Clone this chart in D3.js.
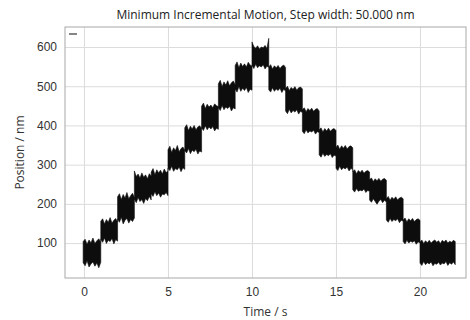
<!DOCTYPE html>
<html>
<head>
<meta charset="utf-8">
<script src="https://cdn.jsdelivr.net/npm/d3@7"></script>
<style>
  body { margin: 0; background: #fff; }
  svg { display: block; font-family: "Open Sans", "Noto Sans", sans-serif; }
  .grid line { stroke: #dcdcdc; stroke-width: 1; }
  .grid path { display: none; }
  .axis path, .axis line { display: none; }
  .axis text { font-size: 12px; fill: #333; }
</style>
</head>
<body>
<div id="chart"></div>
<script>
// step start / end times (s)
const stepStart = [-0.05, 1, 2, 3, 4, 5, 6, 7, 8, 9, 10, 11, 12, 13, 14, 15, 16, 17, 18, 19, 20];
const stepEnd = [1, 2, 3, 4, 5, 6, 7, 8, 9, 10, 11, 12, 13, 14, 15, 16, 17, 18, 19, 20, 22.1];

// upper / lower edge of the noisy trace in each step (nm)
const upperEnv = [
  [104, 110, 97, 108, 101, 113, 99, 106, 111, 102],
  [156, 162, 149, 160, 153, 165, 151, 158, 163, 154],
  [218, 226, 211, 224, 215, 229, 213, 221, 227, 216],
  [284, 270, 276, 266, 279, 268, 274, 264, 277, 271],
  [281, 290, 274, 287, 279, 286, 276, 289, 280, 284],
  [338, 347, 331, 343, 336, 349, 333, 341, 345, 337],
  [394, 402, 387, 398, 391, 400, 389, 396, 399, 392],
  [449, 457, 443, 454, 447, 452, 445, 455, 450, 448],
  [506, 515, 499, 511, 503, 514, 501, 509, 513, 504],
  [553, 562, 547, 559, 550, 557, 549, 561, 554, 551],
  [613, 601, 597, 603, 595, 600, 598, 604, 596, 622],
  [549, 555, 544, 552, 547, 553, 545, 551, 554, 548],
  [494, 500, 489, 497, 492, 499, 490, 496, 498, 493],
  [440, 445, 435, 443, 438, 444, 436, 441, 443, 437],
  [389, 394, 383, 392, 386, 393, 385, 390, 392, 387],
  [344, 350, 339, 348, 342, 349, 340, 346, 348, 343],
  [282, 287, 277, 285, 280, 286, 278, 283, 285, 281],
  [262, 266, 257, 264, 259, 265, 258, 263, 265, 260],
  [214, 219, 209, 217, 212, 218, 210, 215, 217, 213],
  [159, 164, 154, 162, 157, 163, 155, 160, 162, 158],
  [103, 108, 99, 106, 101, 107, 100, 105, 108, 102, 106, 99, 107, 103, 108, 100, 105, 102, 107, 104]
];
const lowerEnv = [
  [50, 42, 55, 39, 47, 52, 41, 49, 37, 51],
  [110, 102, 113, 99, 107, 104, 112, 98, 109, 105],
  [161, 153, 166, 149, 158, 163, 151, 160, 155, 164],
  [212, 203, 216, 206, 211, 201, 214, 208, 219, 210],
  [226, 219, 231, 221, 228, 217, 225, 223, 229, 221],
  [291, 285, 296, 283, 290, 287, 294, 282, 292, 288],
  [336, 330, 341, 328, 337, 333, 339, 327, 335, 332],
  [394, 387, 399, 389, 396, 391, 397, 386, 393, 390],
  [446, 438, 451, 440, 447, 443, 449, 437, 445, 442],
  [493, 485, 499, 487, 495, 489, 497, 484, 492, 490],
  [553, 545, 556, 547, 552, 549, 555, 544, 551, 548],
  [491, 485, 496, 487, 493, 489, 495, 484, 492, 488],
  [437, 430, 441, 432, 438, 434, 440, 429, 436, 433],
  [385, 379, 389, 381, 386, 383, 388, 378, 384, 382],
  [325, 319, 329, 321, 326, 323, 328, 318, 324, 322],
  [291, 285, 296, 287, 292, 289, 294, 284, 290, 288],
  [236, 230, 239, 232, 235, 233, 238, 229, 234, 232],
  [210, 204, 213, 206, 199, 207, 211, 203, 209, 205],
  [159, 153, 163, 155, 160, 157, 162, 152, 158, 156],
  [104, 98, 107, 100, 105, 102, 106, 97, 103, 101],
  [49, 43, 53, 45, 50, 47, 52, 42, 48, 46, 51, 44, 49, 47, 53, 43, 50, 46, 52, 45]
];

const xTicks = [0, 5, 10, 15, 20];
const yTicks = [100, 200, 300, 400, 500, 600];

const width = 470;
const height = 320;
const margin = { top: 27, right: 4, bottom: 42, left: 65 };

const svg = d3.select('#chart')
  .append('svg')
  .attr('width', width)
  .attr('height', height);

const xScale = d3.scaleLinear()
  .domain([-1.13, 22.74])
  .range([margin.left, width - margin.right]);

const yScale = d3.scaleLinear()
  .domain([11, 651])
  .range([height - margin.bottom, margin.top]);

// gridlines
svg.append('g')
  .attr('class', 'grid')
  .attr('transform', `translate(0, ${height - margin.bottom})`)
  .call(d3.axisBottom(xScale).tickValues(xTicks).tickFormat('')
    .tickSize(-(height - margin.top - margin.bottom)));

svg.append('g')
  .attr('class', 'grid')
  .attr('transform', `translate(${margin.left}, 0)`)
  .call(d3.axisLeft(yScale).tickValues(yTicks).tickFormat('')
    .tickSize(-(width - margin.left - margin.right)));

// build the trace samples from the envelopes
const samples = [];
stepStart.forEach((t0, i) => {
  const hi = upperEnv[i];
  const lo = lowerEnv[i];
  const n = hi.length;
  hi.forEach((h, k) => {
    samples.push({ t: t0 + (stepEnd[i] - t0) * k / (n - 1), hi: h, lo: lo[k] });
  });
});

const area = d3.area()
  .x((d) => xScale(d.t))
  .y0((d) => yScale(d.lo))
  .y1((d) => yScale(d.hi));

svg.append('path')
  .datum(samples)
  .attr('d', area)
  .attr('fill', '#0d0d0d')
  .attr('stroke', '#0d0d0d')
  .attr('stroke-width', 0.6);

// plot border
svg.append('rect')
  .attr('x', margin.left)
  .attr('y', margin.top)
  .attr('width', width - margin.left - margin.right)
  .attr('height', height - margin.top - margin.bottom)
  .attr('fill', 'none')
  .attr('stroke', '#a8a8a8')
  .attr('stroke-width', 1);

// axes labels
svg.append('g')
  .attr('class', 'axis')
  .attr('transform', `translate(0, ${height - margin.bottom})`)
  .call(d3.axisBottom(xScale).tickValues(xTicks).tickSize(0).tickPadding(9));

svg.append('g')
  .attr('class', 'axis')
  .attr('transform', `translate(${margin.left}, 0)`)
  .call(d3.axisLeft(yScale).tickValues(yTicks).tickSize(0).tickPadding(8));

// legend stub (empty label)
svg.append('line')
  .attr('x1', margin.left + 4)
  .attr('x2', margin.left + 12)
  .attr('y1', margin.top + 7)
  .attr('y2', margin.top + 7)
  .attr('stroke', '#333')
  .attr('stroke-width', 1.2);

// title
svg.append('text')
  .attr('x', (margin.left + width - margin.right) / 2)
  .attr('y', 19)
  .attr('text-anchor', 'middle')
  .attr('font-size', 12)
  .attr('fill', '#222')
  .text('Minimum Incremental Motion, Step width: 50.000 nm');

svg.append('text')
  .attr('x', (margin.left + width - margin.right) / 2)
  .attr('y', 316)
  .attr('text-anchor', 'middle')
  .attr('font-size', 12)
  .attr('fill', '#333')
  .text('Time / s');

svg.append('text')
  .attr('transform', `translate(24, ${(margin.top + height - margin.bottom) / 2}) rotate(-90)`)
  .attr('text-anchor', 'middle')
  .attr('font-size', 12)
  .attr('fill', '#333')
  .text('Position / nm');
</script>
</body>
</html>
